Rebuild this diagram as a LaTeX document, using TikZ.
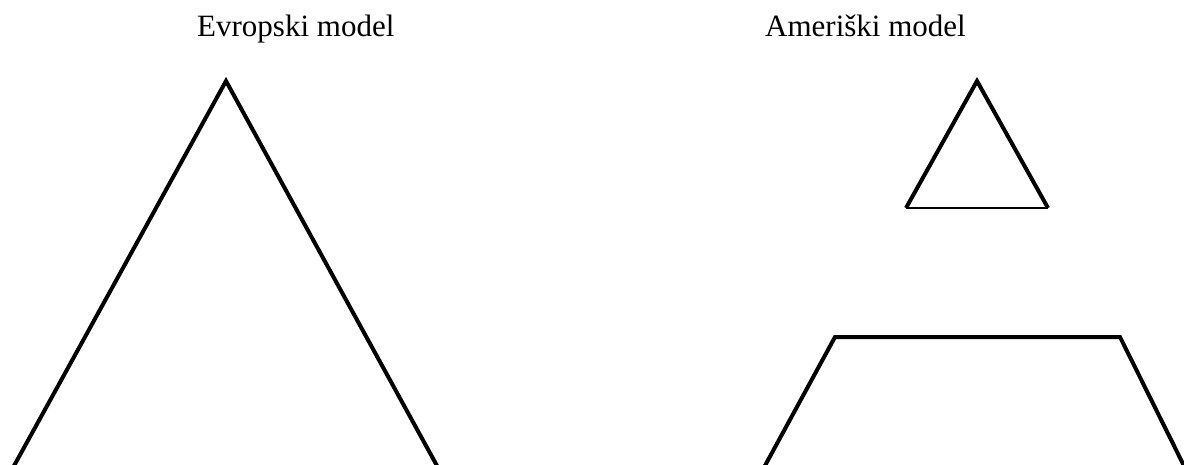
\documentclass[tikz,border=0pt]{standalone}
\usepackage{fontspec}
\setmainfont{Liberation Serif}
\begin{document}
\begin{tikzpicture}[x=1pt,y=-1pt,
  title/.style={anchor=base west,inner sep=0pt,font=\fontsize{31}{36}\selectfont},
  thick line/.style={line width=4pt,line join=miter},
  thin line/.style={line width=2.4pt}]
\useasboundingbox (0,0) rectangle (1184,465);
\clip (0,0) rectangle (1184,465);
\node[title] (eu) at (197,37) {Evropski model};
\node[title] (us) at (765,37) {Ameriški model};
% left triangle
\coordinate (la) at (226,81);
\coordinate (ll) at (4,484);
\coordinate (lr) at (447,484);
\draw[thick line] (ll) -- (la) -- (lr);
% small triangle
\coordinate (sa) at (977,81);
\coordinate (sl) at (906,208);
\coordinate (sr) at (1048,208);
\draw[thick line] (sl) -- (sa) -- (sr);
\draw[thin line] (sl) -- (sr);
% trapezoid
\coordinate (tl) at (835,337);
\coordinate (tr) at (1120,337);
\coordinate (bl) at (755,484);
\coordinate (br) at (1193,484);
\draw[thick line] (bl) -- (tl) -- (tr) -- (br);
\end{tikzpicture}
\end{document}
